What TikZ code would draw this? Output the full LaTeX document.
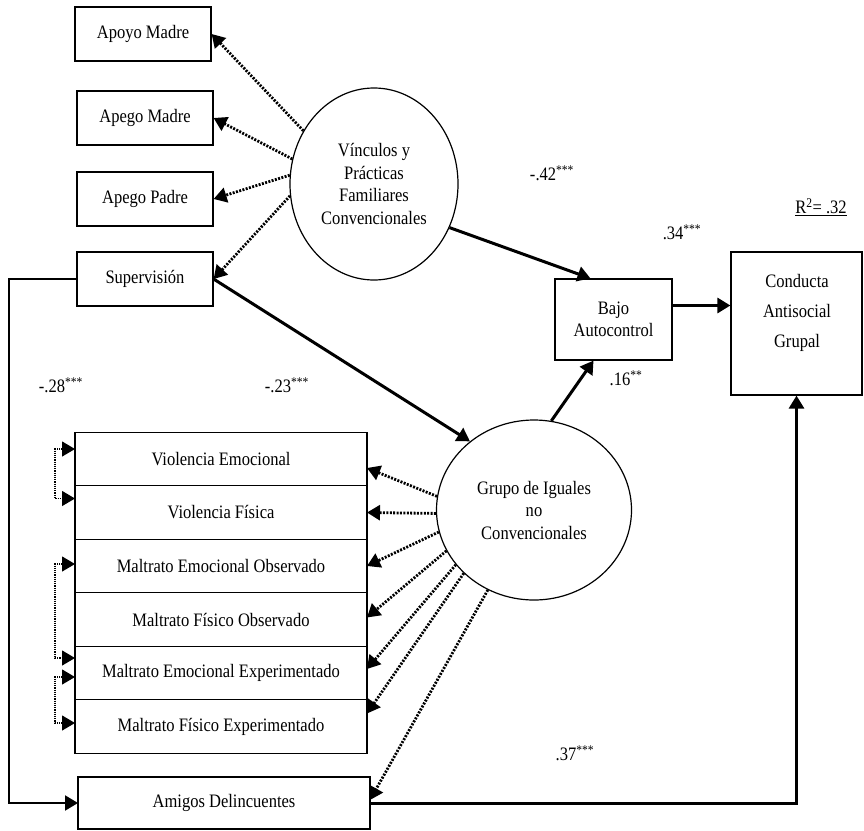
\documentclass[tikz,border=0pt]{standalone}
\usepackage{fontspec}
\setmainfont{Liberation Serif}[FakeStretch=0.87]
\usetikzlibrary{positioning,shapes,arrows.meta}

\begin{document}
\begin{tikzpicture}[x=1pt,y=-1pt,>={Triangle[length=13pt,width=15pt]}]

    %
    % Styles for boxes, factors and paths
    %
    \tikzstyle{indicator} = [draw, rectangle, line width=1.2pt, align=center, inner sep=0pt,
                             font={\fontsize{19}{22.5}\selectfont}]
    \tikzstyle{smallBox} = [indicator, minimum width=136pt, minimum height=54pt]
    \tikzstyle{stackBox} = [indicator, outer sep=0pt, minimum width=292pt, minimum height=53.5pt]
    \tikzstyle{factor} = [draw, ellipse, line width=1.2pt, align=center, inner sep=0pt,
                          font={\fontsize{19}{22.5}\selectfont}]
    \tikzstyle{pathFlow} = [->, line width=3pt];
    \tikzstyle{sideFlow} = [->, line width=2pt];
    \tikzstyle{loading} = [->, line width=2.8pt, dash pattern=on 2pt off 1.4pt];
    \tikzstyle{corr} = [<->, line width=1.2pt, densely dotted];
    \tikzstyle{coef} = [font={\fontsize{19}{22}\selectfont}];

    \useasboundingbox (0,0) rectangle (864,830);

    %
    % Position boxes and factors
    %
    \node[smallBox, name=apoyo] at (143,34) {Apoyo Madre};
    \node[smallBox, name=apegoM] at (145,118) {Apego Madre};
    \node[smallBox, name=apegoP] at (145,199) {Apego Padre};
    \node[smallBox, name=superv] at (145,279) {Supervisión};

    \node[factor, name=vinculos, minimum width=168pt, minimum height=192pt] at (374,184)
      {Vínculos y\\Prácticas\\Familiares\\Convencionales};
    \node[factor, name=grupo, minimum width=195pt, minimum height=180pt] at (534,510)
      {Grupo de Iguales\\no\\Convencionales};

    \node[indicator, name=bajo, minimum width=117pt, minimum height=81pt] at (613.5,319.5)
      {Bajo\\Autocontrol};
    \node[indicator, name=conducta, minimum width=131pt, minimum height=143pt] at (796.5,323.5) {};
    \node[coef, align=center, name=conductaText, font={\fontsize{19}{30}\selectfont}] at (797,313)
      {Conducta\\Antisocial\\Grupal};

    \node[stackBox, name=violEmo] at (221,459) {Violencia Emocional};
    \node[stackBox, name=violFis, below=0pt of violEmo] {Violencia Física};
    \node[stackBox, name=maltEmoObs, below=0pt of violFis] {Maltrato Emocional Observado};
    \node[stackBox, name=maltFisObs, below=0pt of maltEmoObs] {Maltrato Físico Observado};
    \node[stackBox, name=maltEmoExp, below=0pt of maltFisObs] {Maltrato Emocional Experimentado};
    \node[stackBox, name=maltFisExp, below=0pt of maltEmoExp] {Maltrato Físico Experimentado};

    \node[stackBox, name=amigos, minimum height=52pt] at (224,803) {Amigos Delincuentes};

    %
    % Coefficients
    %
    \node[coef, name=c42] at (552,173) {-.42\textsuperscript{***}};
    \node[coef, name=c34] at (682,232) {.34\textsuperscript{***}};
    \node[coef, name=c16] at (626,378) {.16\textsuperscript{**}};
    \node[coef, name=c28] at (61,385) {-.28\textsuperscript{***}};
    \node[coef, name=c23] at (287,385) {-.23\textsuperscript{***}};
    \node[coef, name=c37] at (575,753) {.37\textsuperscript{***}};
    \node[coef, name=rsq] at (821,207) {\underline{R\textsuperscript{2}= .32}};

    %
    % Structural paths
    %
    \draw[pathFlow] (vinculos.-30) -- ([xshift=-23pt]bajo.north);
    \draw[pathFlow] (superv.east) -- (grupo.133);
    \draw[pathFlow] (grupo.79) -- ([xshift=-20pt]bajo.south);
    \draw[pathFlow] ([yshift=14pt]bajo.east) -- ([yshift=14pt]bajo.east -| conducta.west);
    \draw[sideFlow] (superv.west) -- ++(-67,0) |- (amigos.west);
    \draw[pathFlow] (amigos.east) -| (conducta.south);

    %
    % Loadings
    %
    \draw[loading] (vinculos.143) -- (apoyo.east);
    \draw[loading] (vinculos.163) -- (apegoM.east);
    \draw[loading] (vinculos.174) -- (apegoP.east);
    \draw[loading] (vinculos.188) -- (superv.east);

    \draw[loading] (grupo.172) -- ([yshift=-9pt]violEmo.east);
    \draw[loading] (grupo.182) -- (violFis.east);
    \draw[loading] (grupo.193) -- (maltEmoObs.east);
    \draw[loading] (grupo.205) -- ([yshift=2pt]maltFisObs.east);
    \draw[loading] (grupo.215) -- ([yshift=4pt]maltEmoExp.east);
    \draw[loading] (grupo.222) -- ([yshift=13pt]maltFisExp.east);
    \draw[loading] (grupo.240) -- ([yshift=3pt]amigos.east);

    %
    % Correlated errors
    %
    \draw[corr] ([yshift=10pt]violEmo.west) -- ++(-20,0) |- ([yshift=14pt]violFis.west);
    \draw[corr] ([yshift=2pt]maltEmoObs.west) -- ++(-20,0) |- ([yshift=15pt]maltEmoExp.west);
    \draw[corr] ([yshift=-4pt]maltEmoExp.west) -- ++(-20,0) |- ([yshift=3.5pt]maltFisExp.west);
  \end{tikzpicture}
\end{document}
